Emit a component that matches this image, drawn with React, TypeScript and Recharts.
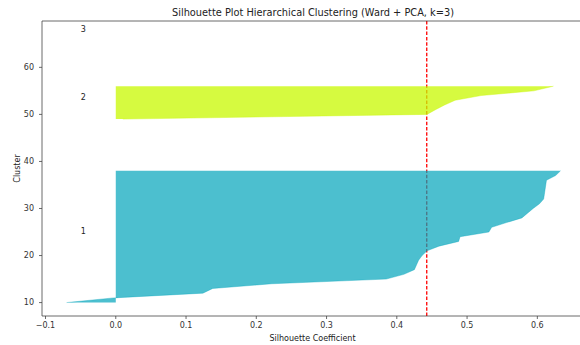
import React from 'react';
import {
  ComposedChart,
  Area,
  Line,
  XAxis,
  YAxis,
  ReferenceArea,
  ReferenceDot
} from 'recharts';

// silhouette values per cluster, sorted ascending (bottom -> top)
const clusterNames = ['1', '2', '3'];
const cluster1Scores = [
  -0.07, -0.003, 0.124, 0.138, 0.222, 0.385, 0.41, 0.425, 0.428, 0.431,
  0.436, 0.443, 0.46, 0.488, 0.49, 0.531, 0.535, 0.556, 0.578, 0.586,
  0.594, 0.603, 0.609, 0.61, 0.611, 0.612, 0.613, 0.626, 0.633
];
const cluster2Scores = [0.01, 0.443, 0.455, 0.468, 0.483, 0.52, 0.595, 0.623];
const cluster3Scores = [0.0];
const clusterColors = ['#00a4bb', '#c8f800', '#cccccc'];
const clusterAlpha = [0.7, 0.75, 0.7];

const averageScore = 0.4426;

const xTicks = [-0.1, 0, 0.1, 0.2, 0.3, 0.4, 0.5, 0.6];
const yTicks = [10, 20, 30, 40, 50, 60];
const xDomain = [-0.105, 0.665];
const yDomain = [7.15, 69.85];

const FONT = '"DejaVu Sans", sans-serif';

// stack clusters like sklearn's silhouette example: gap of 10 between clusters
const clusters = [cluster1Scores, cluster2Scores, cluster3Scores];
const rows: Record<string, number | null>[] = [];
const labelSpots: { name: string; y: number }[] = [];
let yLower = 10;
clusters.forEach((scores, ci) => {
  scores.forEach((s, i) => {
    const row: Record<string, number | null> = { y: yLower + i };
    clusters.forEach((_, k) => {
      row[`c${k}`] = k === ci ? s : null;
    });
    rows.push(row);
  });
  labelSpots.push({ name: clusterNames[ci], y: yLower + 0.5 * scores.length });
  yLower += scores.length + 10;
});

// vertical average line spanning the whole axis (drawn beneath the fills)
const avgLine = yDomain.map((y) => ({ y, avg: averageScore }));

const fmtX = (v: number) => (v < 0 ? '\u2212' + Math.abs(v).toFixed(1) : v.toFixed(1));

export default function App() {
  return (
    <div
      style={{
        position: 'absolute',
        left: 0,
        top: 0,
        width: 580,
        height: 345,
        overflow: 'hidden',
        background: '#fff'
      }}
    >
      <div
        style={{
          position: 'absolute',
          left: 0,
          top: 7,
          width: 626,
          textAlign: 'center',
          fontFamily: FONT,
          fontSize: 9.8,
          lineHeight: '11px',
          color: '#222'
        }}
      >
        Silhouette Plot Hierarchical Clustering (Ward + PCA, k=3)
      </div>
      <ComposedChart
        width={584}
        height={345}
        data={rows}
        layout="vertical"
        margin={{ top: 21, right: 1, bottom: 0, left: 0 }}
      >
        <XAxis
          type="number"
          domain={xDomain}
          ticks={xTicks}
          allowDataOverflow
          tickFormatter={fmtX}
          axisLine={false}
          tickSize={3}
          tickMargin={3}
          height={29}
          tickLine={{ stroke: '#444', strokeWidth: 0.8 }}
          tick={{ fill: '#333', fontSize: 8, fontFamily: FONT }}
          label={{
            content: ({ viewBox }: any) => (
              <text
                x={viewBox.x + viewBox.width / 2}
                y={viewBox.y + 24.5}
                textAnchor="middle"
                fontSize={8}
                fontFamily={FONT}
                fill="#222"
              >
                Silhouette Coefficient
              </text>
            )
          }}
        />
        <YAxis
          type="number"
          dataKey="y"
          domain={yDomain}
          ticks={yTicks}
          reversed
          allowDataOverflow
          axisLine={false}
          width={42}
          tickSize={3}
          tickMargin={5}
          tickLine={{ stroke: '#444', strokeWidth: 0.8 }}
          tick={{ fill: '#333', fontSize: 8, fontFamily: FONT }}
          label={{
            content: ({ viewBox }: any) => (
              <text
                x={viewBox.x + 17}
                y={viewBox.y + viewBox.height / 2}
                transform={`rotate(-90, ${viewBox.x + 17}, ${viewBox.y + viewBox.height / 2})`}
                textAnchor="middle"
                dominantBaseline="central"
                fontSize={8}
                fontFamily={FONT}
                fill="#222"
              >
                Cluster
              </text>
            )
          }}
        />
        <Line
          data={avgLine}
          dataKey="avg"
          type="linear"
          stroke="#ff0000"
          strokeWidth={1.3}
          strokeDasharray="3.5 1.8"
          dot={false}
          activeDot={false}
          isAnimationActive={false}
          zIndex={50}
        />
        {clusters.map((_, k) => (
          <Area
            key={k}
            dataKey={`c${k}`}
            type="linear"
            baseValue={0}
            fill={clusterColors[k]}
            fillOpacity={clusterAlpha[k]}
            stroke={clusterColors[k]}
            strokeOpacity={clusterAlpha[k]}
            strokeWidth={0.5}
            isAnimationActive={false}
            dot={false}
            activeDot={false}
          />
        ))}
        {labelSpots.map((p) => (
          <ReferenceDot
            key={p.name}
            x={-0.05}
            y={p.y}
            r={0}
            ifOverflow="visible"
            shape={(props: any) => (
              <text x={props.cx} y={props.cy} fontSize={8} fontFamily={FONT} fill="#222">
                {p.name}
              </text>
            )}
          />
        ))}
        <ReferenceArea
          x1={xDomain[0]}
          x2={xDomain[1]}
          y1={yDomain[0]}
          y2={yDomain[1]}
          ifOverflow="visible"
          fill="none"
          stroke="#444"
          strokeWidth={0.8}
        />
      </ComposedChart>
    </div>
  );
}
